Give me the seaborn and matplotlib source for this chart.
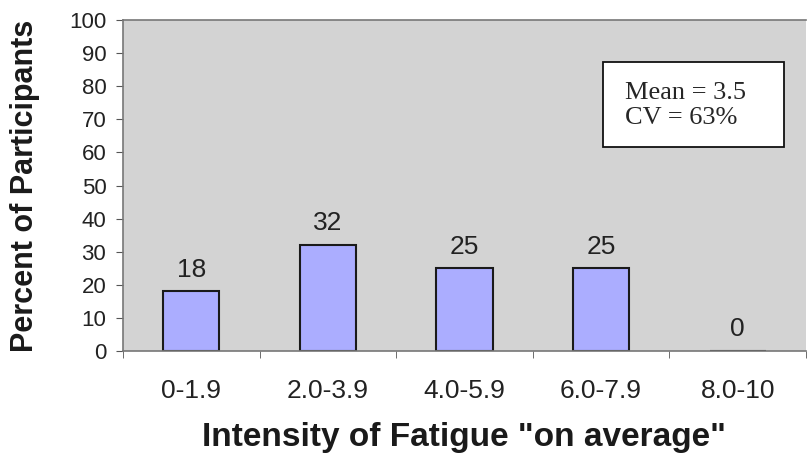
import matplotlib
matplotlib.use("Agg")
import matplotlib.pyplot as plt
import seaborn as sns
import pandas as pd
from matplotlib.patches import Rectangle
from matplotlib.ticker import FixedLocator

# Data
bins = ["0-1.9", "2.0-3.9", "4.0-5.9", "6.0-7.9", "8.0-10"]
percent = [18, 32, 25, 25, 0]
stats_text = "Mean = 3.5\nCV = 63%"

df = pd.DataFrame({"Intensity": bins, "Percent": percent})

sns.set_style("white")
plt.rcParams["font.family"] = ["Liberation Sans", "DejaVu Sans"]

fig = plt.figure(figsize=(8.07, 4.53), dpi=100)
ax = fig.add_axes([123 / 807, 1 - 351 / 453, 683 / 807, 331 / 453])
ax.set_facecolor("#d3d3d3")

sns.barplot(data=df, x="Intensity", y="Percent", color="#abadff",
            edgecolor="#1a1a1a", linewidth=1.5, width=0.41, saturation=1, ax=ax)

# value labels above bars
for i, v in enumerate(percent):
    ax.annotate(str(v), xy=(i, v), xytext=(0, 7), textcoords="offset points",
                ha="center", va="bottom", fontsize=19, color="#222222")

ax.set_xlim(-0.5, len(bins) - 0.5)
ax.set_ylim(0, 100)
ax.set_yticks(range(0, 101, 10))
ax.tick_params(axis="y", labelsize=16, length=5, direction="out", left=True,
               color="#555555", pad=7, labelcolor="#222222")
ax.tick_params(axis="x", which="major", length=0, labelsize=19, pad=20,
               labelcolor="#222222")
ax.xaxis.set_minor_locator(FixedLocator([i - 0.5 for i in range(len(bins) + 1)]))
ax.tick_params(axis="x", which="minor", length=5, direction="out", bottom=True,
               color="#555555")

for side in ["left", "bottom", "top"]:
    ax.spines[side].set_color("#777777")
    ax.spines[side].set_linewidth(1.2)
ax.spines["right"].set_visible(False)

ax.set_xlabel('Intensity of Fatigue "on average"', fontsize=24, fontweight="bold",
              va="center", color="#1a1a1a")
ax.xaxis.set_label_coords(0.5, -0.26)
ax.set_ylabel("Percent of Participants", fontsize=22, fontweight="bold", va="center",
              color="#1a1a1a")
ax.yaxis.set_label_coords(-0.1435, 0.5)

# stats box
ax.add_patch(Rectangle((0.703, 0.616), 0.265, 0.257, transform=ax.transAxes,
                       fc="white", ec="#111111", lw=1.3, zorder=3))
ax.text(0.735, 0.742, stats_text, transform=ax.transAxes, ha="left", va="center",
        fontsize=19, family="Liberation Serif", linespacing=1.17, zorder=4)

fig.savefig("out.png", dpi=100)
